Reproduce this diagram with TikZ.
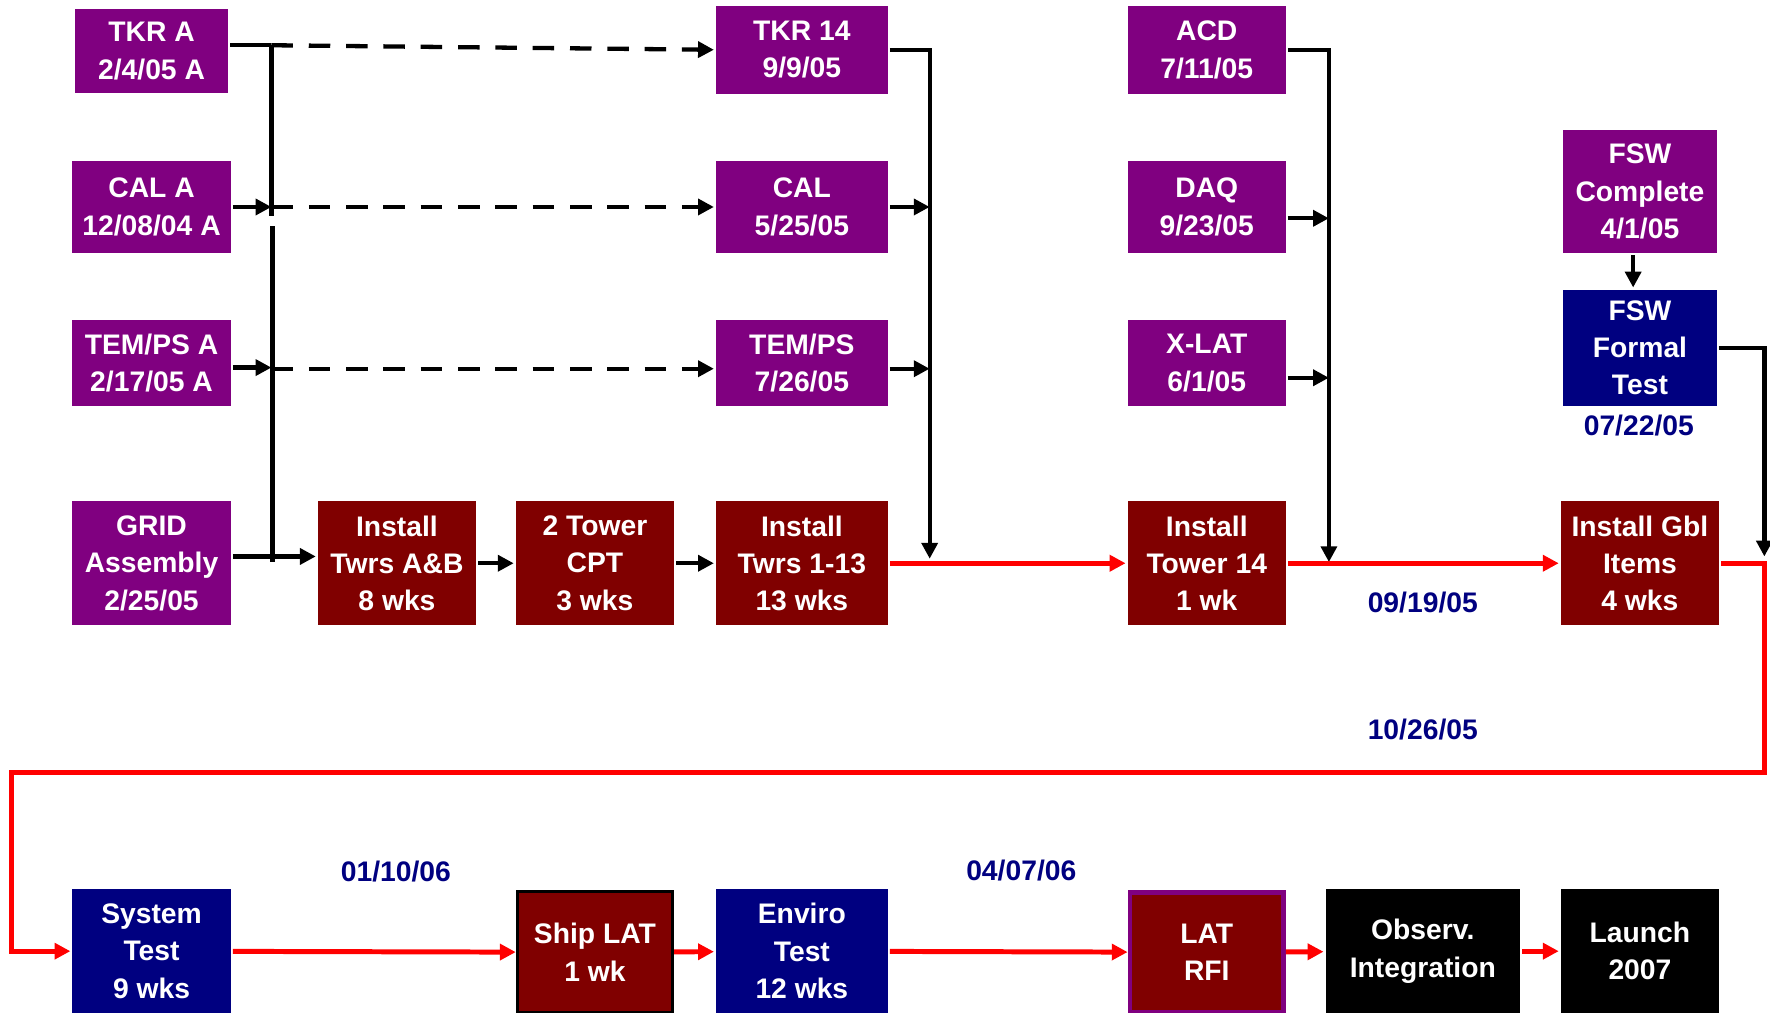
\documentclass[tikz,border=0pt]{standalone}
\usepackage{fontspec}
\setmainfont{Liberation Sans}
\usetikzlibrary{arrows.meta}
\definecolor{boxpurple}{RGB}{128,0,128}
\definecolor{boxmaroon}{RGB}{128,0,0}
\definecolor{boxnavy}{RGB}{0,0,128}

\tikzset{every picture/.style={line width=1.8pt}}

\begin{document}
\begin{tikzpicture}[x=0.5pt,y=0.5pt,yscale=-1,xscale=1,
  >={Triangle[length=7pt,width=7pt]},
  box/.style={inner sep=0pt, text=white, align=center,
    font=\bfseries\fontsize{12.5}{16.5}\selectfont},
  milestone/.style={box, fill=boxpurple},
  task/.style={box, fill=boxmaroon},
  test/.style={box, fill=boxnavy},
  final/.style={box, fill=black},
  datelabel/.style={text=boxnavy, font=\bfseries\fontsize{12.5}{15}\selectfont},
  crit/.style={red, line width=2.2pt},
  link/.style={black, line width=1.9pt}]
\useasboundingbox (0,0) rectangle (1565,895);

%Row 1: TKR / ACD
\node [milestone, minimum width=68pt, minimum height=37pt] (tkra) at (134,45) {TKR A\\2/4/05 A};
\node [milestone, minimum width=76pt, minimum height=39pt] (tkr14) at (709,44) {TKR 14\\9/9/05};
\node [milestone, minimum width=70pt, minimum height=39pt] (acd) at (1067,44) {ACD\\7/11/05};
%Row 2: CAL / DAQ
\node [milestone, minimum width=70pt, minimum height=41pt] (cala) at (134,183) {CAL A\\12/08/04 A};
\node [milestone, minimum width=76pt, minimum height=41pt] (cal) at (709,183) {CAL\\5/25/05};
\node [milestone, minimum width=70pt, minimum height=41pt] (daq) at (1067,183) {DAQ\\9/23/05};
%Row 3: TEM/PS / X-LAT
\node [milestone, minimum width=70pt, minimum height=38pt] (tempsa) at (134,321) {TEM/PS A\\2/17/05 A};
\node [milestone, minimum width=76pt, minimum height=38pt] (temps) at (709,321) {TEM/PS\\7/26/05};
\node [milestone, minimum width=70pt, minimum height=38pt] (xlat) at (1067,321) {X-LAT\\6/1/05};
%FSW
\node [milestone, minimum width=68pt, minimum height=54.5pt] (fswc) at (1450,169.5) {FSW\\Complete\\4/1/05};
\node [test, minimum width=68pt, minimum height=51.5pt] (fswf) at (1450,307.5) {FSW\\Formal\\Test};
\node [datelabel] (fswdate) at (1449,376) {07/22/05};

%Row 4: integration flow
\node [milestone, minimum width=70pt, minimum height=55pt] (grid) at (134,498) {GRID\\Assembly\\2/25/05};
\node [task, minimum width=70pt, minimum height=55pt] (twrsab) at (351,498) {Install\\Twrs A\&B\\8 wks};
\node [task, minimum width=70pt, minimum height=55pt] (cpt) at (526,498) {2 Tower\\CPT\\3 wks};
\node [task, minimum width=76pt, minimum height=55pt] (twrs113) at (709,498) {Install\\Twrs 1-13\\13 wks};
\node [task, minimum width=70pt, minimum height=55pt] (tower14) at (1067,498) {Install\\Tower 14\\1 wk};
\node [task, minimum width=70pt, minimum height=55pt] (gbl) at (1450,498) {Install Gbl\\Items\\4 wks};
\node [datelabel] (date1) at (1258,533) {09/19/05};
\node [datelabel] (date2) at (1258,645) {10/26/05};

%Row 5: test and launch
\node [test, minimum width=70pt, minimum height=55pt] (systest) at (134,841) {System\\Test\\9 wks};
\node [task, draw=black, line width=1.5pt, minimum width=68.5pt, minimum height=53.5pt] (shiplat) at (526,842) {Ship LAT\\1 wk};
\node [test, minimum width=76pt, minimum height=55pt] (enviro) at (709,841) {Enviro\\Test\\12 wks};
\node [task, draw=boxpurple, line width=2pt, minimum width=68pt, minimum height=53pt] (latrfi) at (1067,842) {LAT\\RFI};
\node [final, minimum width=86pt, minimum height=55pt] (observ) at (1258,841) {Observ.\\Integration};
\node [final, minimum width=70pt, minimum height=55pt] (launch) at (1450,841) {Launch\\2007};
\node [datelabel] (date3) at (350,771) {01/10/06};
\node [datelabel] (date4) at (903,770) {04/07/06};

%Bus points
\coordinate (busa) at (240,40);
\coordinate (busb) at (240,191);
\coordinate (busc) at (241,200);
\coordinate (busd) at (241,497);
\coordinate (bustkr) at (822,494);
\coordinate (busacd) at (1175,497);
\coordinate (busfsw) at (1560,492);
\coordinate (loopr) at (1560,683);
\coordinate (loopl) at (10,683);

%Left bus and dashed links
\draw [link] (busa) -- (busb);
\draw [link] (busc) -- (busd);
\draw [link] (tkra.east |- busa) -- (busa);
\draw [link,->] (cala.east) -- (cala.east -| busa);
\draw [link,->] ([yshift=2pt]tempsa.east) -- ([yshift=2pt]tempsa.east -| busa);
\draw [link,->,dash pattern=on 9.5pt off 7pt] (busa) -- (tkr14.west);
\draw [link,->,dash pattern=on 9.5pt off 7pt] (cala.east -| busa) -- (cal.west);
\draw [link,->,dash pattern=on 9.5pt off 7pt] ([yshift=2.5pt]tempsa.east -| busa) -- ([yshift=2.5pt]temps.west);

%Flow row 4
\draw [link,->] ([yshift=-3pt]grid.east) -- ([yshift=-3pt]twrsab.west);
\draw [link,->] (twrsab) -- (cpt);
\draw [link,->] (cpt) -- (twrs113);

%Right buses
\draw [link,->] (tkr14.east) -| (bustkr);
\draw [link,->] (cal.east) -- (cal.east -| bustkr);
\draw [link,->] ([yshift=2.5pt]temps.east) -- ([yshift=2.5pt]temps.east -| bustkr);
\draw [link,->] (acd.east) -| (busacd);
\draw [link,->] ([yshift=5pt]daq.east) -- ([yshift=5pt]daq.east -| busacd);
\draw [link,->] ([yshift=6.5pt]xlat.east) -- ([yshift=6.5pt]xlat.east -| busacd);
\draw [link,->] ([xshift=-3pt]fswc.south) -- ([xshift=-3pt]fswf.north);
\draw [link,->] (fswf.east) -| (busfsw);

%Critical path
\draw [crit,->] (twrs113) -- (tower14);
\draw [crit,->] (tower14) -- (gbl);
\draw [crit,->] (gbl.east) -| (loopr) -- (loopl) |- (systest.west);
\draw [crit,->] (systest) -- (shiplat);
\draw [crit,->] (shiplat) -- (enviro);
\draw [crit,->] (enviro) -- (latrfi);
\draw [crit,->] (latrfi) -- (observ);
\draw [crit,->] (observ) -- (launch);
\end{tikzpicture}
\end{document}
